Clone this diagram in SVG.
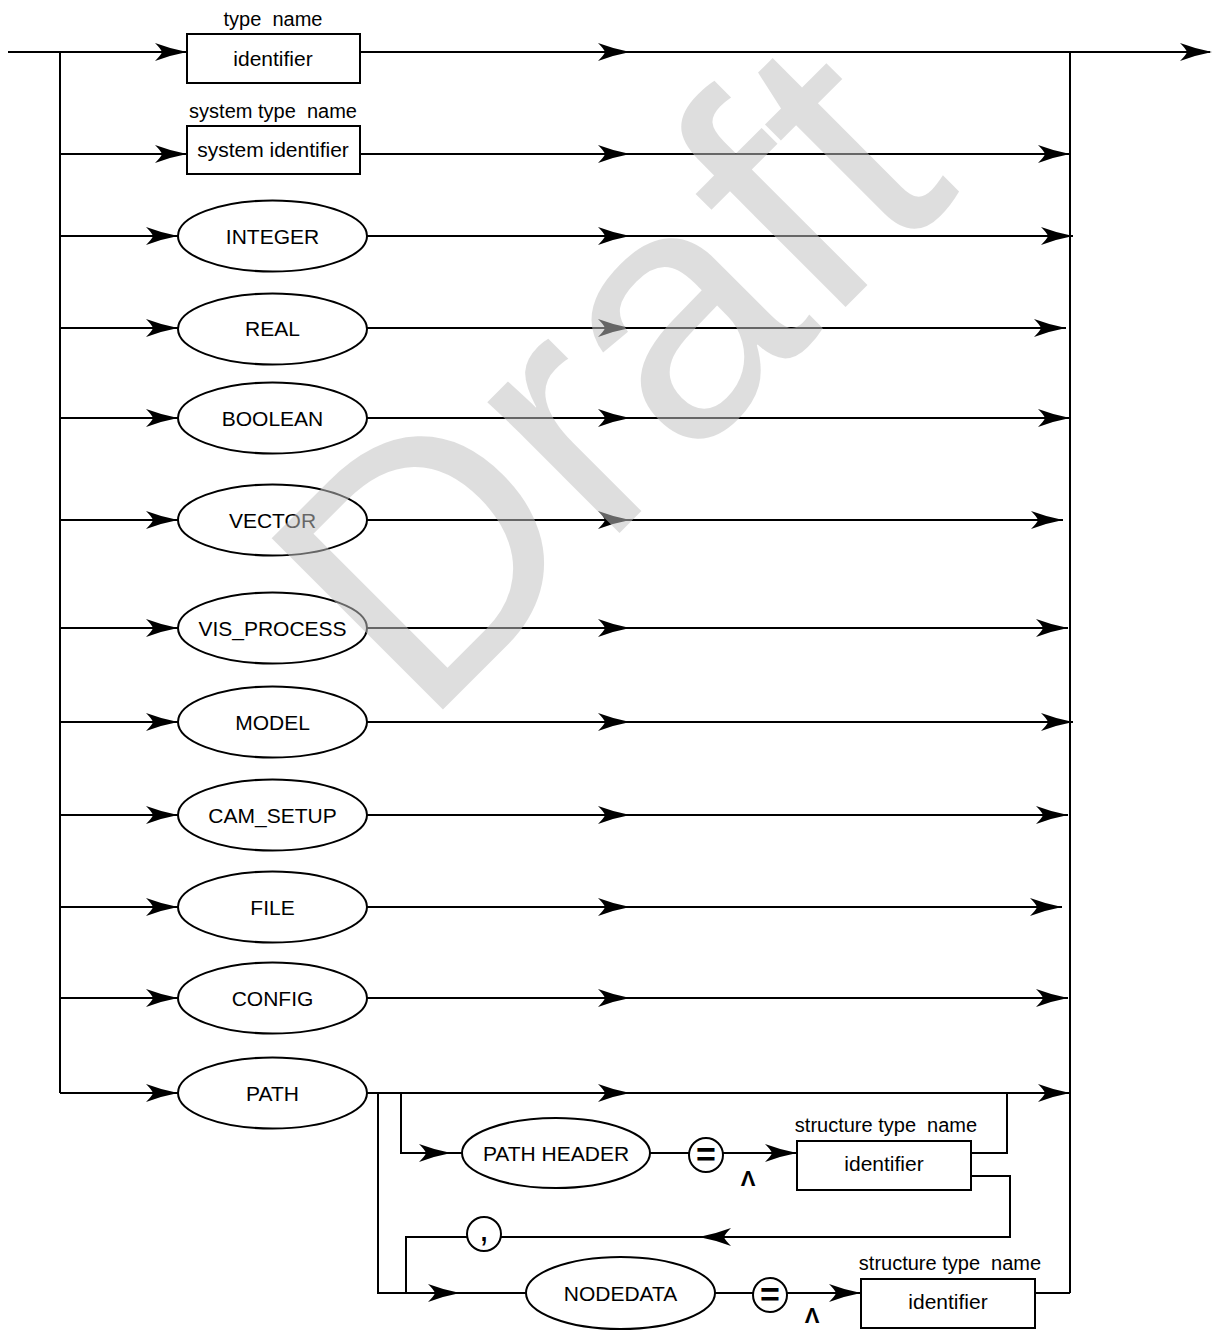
<svg xmlns="http://www.w3.org/2000/svg" xmlns:xlink="http://www.w3.org/1999/xlink" width="1221" height="1332" viewBox="0 0 1221 1332">
<defs>
<style>
.ln{fill:none;stroke:#000;stroke-width:2}
.nd{fill:#fff;stroke:#000;stroke-width:2}
.t{font-family:"Liberation Sans",Arial,sans-serif;font-size:21px;text-anchor:middle;fill:#000}
.lb{font-family:"Liberation Sans",Arial,sans-serif;font-size:20px;text-anchor:middle;fill:#000;white-space:pre}
.eq{font-family:"Liberation Sans",Arial,sans-serif;font-size:34px;font-weight:bold;text-anchor:middle;fill:#000}
.up{font-family:"Liberation Sans",Arial,sans-serif;font-size:22px;font-weight:bold;text-anchor:middle;fill:#000}
</style>
<path id="ah" d="M0,0 Q-16,-3 -32,-9 Q-26,-3 -25,0 Q-26,3 -32,9 Q-16,3 0,0 Z" fill="#000"/>
</defs>
<rect width="1221" height="1332" fill="#fff"/>
<g id="connectors">
<path class="ln" d="M8,52 H187 M360,52 H1210 M60,52 V1093 M1070,52 V1293"/>
<path class="ln" d="M60,154 H187 M360,154 H1070"/>
<path class="ln" d="M60,236 H178 M367,236 H1073"/>
<path class="ln" d="M60,328 H178 M367,328 H1066"/>
<path class="ln" d="M60,418 H178 M367,418 H1070"/>
<path class="ln" d="M60,520 H178 M367,520 H1063"/>
<path class="ln" d="M60,628 H178 M367,628 H1068"/>
<path class="ln" d="M60,722 H178 M367,722 H1073"/>
<path class="ln" d="M60,815 H178 M367,815 H1068"/>
<path class="ln" d="M60,907 H178 M367,907 H1062"/>
<path class="ln" d="M60,998 H178 M367,998 H1068"/>
<path class="ln" d="M60,1093 H178 M367,1093 H1070"/>
<path class="ln" d="M378,1093 V1293 H526 M401,1093 V1153 H462 M649,1153 H689 M723,1153 H797 M971,1153 H1007 V1093 M971,1176 H1010 V1237 H406 V1293 M715,1293 H753 M787,1293 H861 M1035,1293 H1070"/>
<use xlink:href="#ah" x="187" y="52"/><use xlink:href="#ah" x="630" y="52"/><use xlink:href="#ah" x="1212" y="52"/>
<use xlink:href="#ah" x="187" y="154"/><use xlink:href="#ah" x="630" y="154"/><use xlink:href="#ah" x="1070" y="154"/>
<use xlink:href="#ah" x="178" y="236"/><use xlink:href="#ah" x="630" y="236"/><use xlink:href="#ah" x="1073" y="236"/>
<use xlink:href="#ah" x="178" y="328"/><use xlink:href="#ah" x="630" y="328"/><use xlink:href="#ah" x="1066" y="328"/>
<use xlink:href="#ah" x="178" y="418"/><use xlink:href="#ah" x="630" y="418"/><use xlink:href="#ah" x="1070" y="418"/>
<use xlink:href="#ah" x="178" y="520"/><use xlink:href="#ah" x="630" y="520"/><use xlink:href="#ah" x="1063" y="520"/>
<use xlink:href="#ah" x="178" y="628"/><use xlink:href="#ah" x="630" y="628"/><use xlink:href="#ah" x="1068" y="628"/>
<use xlink:href="#ah" x="178" y="722"/><use xlink:href="#ah" x="630" y="722"/><use xlink:href="#ah" x="1073" y="722"/>
<use xlink:href="#ah" x="178" y="815"/><use xlink:href="#ah" x="630" y="815"/><use xlink:href="#ah" x="1068" y="815"/>
<use xlink:href="#ah" x="178" y="907"/><use xlink:href="#ah" x="630" y="907"/><use xlink:href="#ah" x="1062" y="907"/>
<use xlink:href="#ah" x="178" y="998"/><use xlink:href="#ah" x="630" y="998"/><use xlink:href="#ah" x="1068" y="998"/>
<use xlink:href="#ah" x="178" y="1093"/><use xlink:href="#ah" x="630" y="1093"/><use xlink:href="#ah" x="1070" y="1093"/>
<use xlink:href="#ah" x="451" y="1153"/><use xlink:href="#ah" x="797" y="1153"/>
<use xlink:href="#ah" transform="translate(699,1237) rotate(180)"/>
<use xlink:href="#ah" x="460" y="1293"/><use xlink:href="#ah" x="861" y="1293"/>
</g>
<g id="n-identifier"><text class="lb" x="273" y="26" xml:space="preserve">type  name</text><rect class="nd" x="187" y="34" width="173" height="49"/><text class="t" x="273" y="66">identifier</text></g>
<g id="n-system-identifier"><text class="lb" x="273" y="118" xml:space="preserve">system type  name</text><rect class="nd" x="187" y="126" width="173" height="48"/><text class="t" x="273" y="157">system identifier</text></g>
<g id="n-integer"><ellipse class="nd" cx="272.5" cy="236" rx="94.5" ry="35.5"/><text class="t" x="272.5" y="243.5">INTEGER</text></g>
<g id="n-real"><ellipse class="nd" cx="272.5" cy="329" rx="94.5" ry="35.5"/><text class="t" x="272.5" y="336">REAL</text></g>
<g id="n-boolean"><ellipse class="nd" cx="272.5" cy="418" rx="94.5" ry="35.5"/><text class="t" x="272.5" y="425.5">BOOLEAN</text></g>
<g id="n-vector"><ellipse class="nd" cx="272.5" cy="520" rx="94.5" ry="35.5"/><text class="t" x="272.5" y="527.5">VECTOR</text></g>
<g id="n-vis-process"><ellipse class="nd" cx="272.5" cy="628" rx="94.5" ry="35.5"/><text class="t" x="272.5" y="635.5">VIS_PROCESS</text></g>
<g id="n-model"><ellipse class="nd" cx="272.5" cy="722" rx="94.5" ry="35.5"/><text class="t" x="272.5" y="729.5">MODEL</text></g>
<g id="n-cam-setup"><ellipse class="nd" cx="272.5" cy="815" rx="94.5" ry="35.5"/><text class="t" x="272.5" y="822.5">CAM_SETUP</text></g>
<g id="n-file"><ellipse class="nd" cx="272.5" cy="907" rx="94.5" ry="35.5"/><text class="t" x="272.5" y="914.5">FILE</text></g>
<g id="n-config"><ellipse class="nd" cx="272.5" cy="998" rx="94.5" ry="35.5"/><text class="t" x="272.5" y="1005.5">CONFIG</text></g>
<g id="n-path"><ellipse class="nd" cx="272.5" cy="1093" rx="94.5" ry="35.5"/><text class="t" x="272.5" y="1100.5">PATH</text></g>
<g id="n-path-header"><ellipse class="nd" cx="556" cy="1153" rx="94" ry="35"/><text class="t" x="556" y="1160.5">PATH HEADER</text></g>
<g id="n-eq1"><circle class="nd" cx="706" cy="1155" r="17"/><text class="eq" x="706" y="1166">=</text><text class="up" x="748" y="1186">Λ</text></g>
<g id="n-header-identifier"><text class="lb" x="886" y="1132" xml:space="preserve">structure type  name</text><rect class="nd" x="797" y="1141" width="174" height="49"/><text class="t" x="884" y="1171">identifier</text></g>
<g id="n-comma"><circle class="nd" cx="484" cy="1234" r="17"/><text class="t" x="484" y="1241" style="font-size:36px">,</text></g>
<g id="n-nodedata"><ellipse class="nd" cx="620.5" cy="1293" rx="94.5" ry="36"/><text class="t" x="620.5" y="1300.5">NODEDATA</text></g>
<g id="n-eq2"><circle class="nd" cx="770" cy="1295" r="17"/><text class="eq" x="770" y="1306">=</text><text class="up" x="812" y="1323">Λ</text></g>
<g id="n-nodedata-identifier"><text class="lb" x="950" y="1270" xml:space="preserve">structure type  name</text><rect class="nd" x="861" y="1279" width="174" height="49"/><text class="t" x="948" y="1309">identifier</text></g>
<g id="watermark"><text x="0" y="0" transform="translate(422.5,730) rotate(-45)" style="font-family:'Liberation Sans',Arial,sans-serif;font-size:352px" fill="#c0c0c0" fill-opacity="0.53">Draft</text></g>
</svg>
